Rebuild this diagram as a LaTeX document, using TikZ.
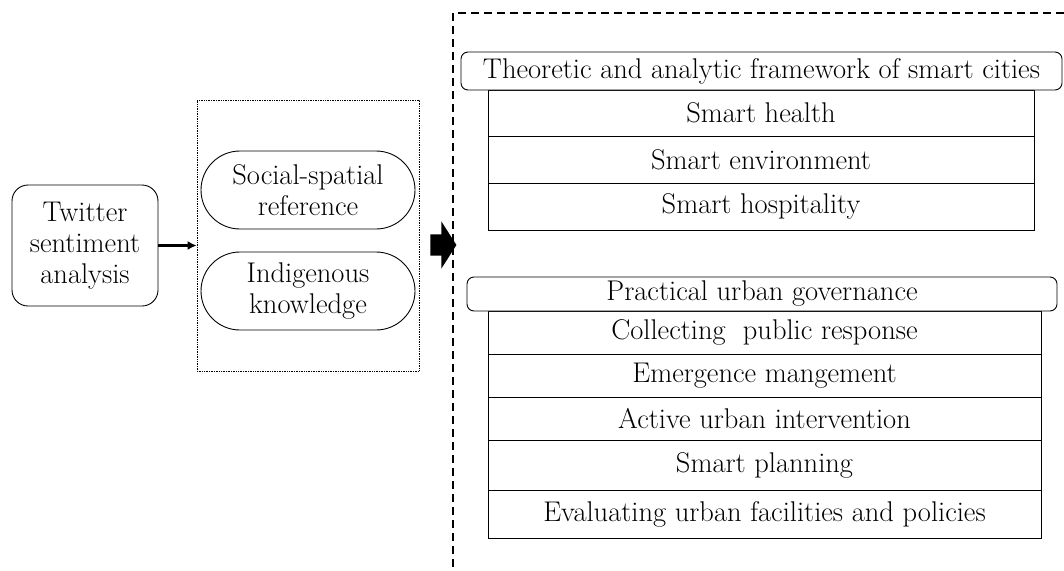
\documentclass[tikz,border=0pt]{standalone}
\usepackage{fontspec}
\usepackage{tikz}
\usetikzlibrary{arrows.meta,positioning,shapes.misc,shapes.arrows}

\begin{document}
\begin{tikzpicture}[x=1pt, y=-1pt, every node/.style={font=\fontsize{28.5}{31}\selectfont, align=center, inner sep=0pt},
  twbox/.style={draw, line width=0.9pt, rounded corners=16pt, minimum width=146pt, minimum height=121pt},
  pill/.style={draw, line width=0.9pt, rounded rectangle, minimum width=214pt, minimum height=78pt},
  headbox/.style={draw, line width=0.9pt, rounded corners=7pt, fill=white},
  rowbox/.style={draw, line width=0.8pt}]
\useasboundingbox (0,0) rectangle (1064,570);
\node[twbox] (tw) at (85,245.5) {Twitter\\sentiment\\analysis};
\node[draw, densely dotted, line width=0.7pt, minimum width=222pt, minimum height=271pt] (grp) at (308,235.5) {};
\node[pill] (ssr) at (308,190) {Social-spatial\\reference};
\node[pill] (ik) at (308,291) {Indigenous\\knowledge};
\draw[line width=2.2pt, -{Latex[length=9pt,width=9pt]}] (tw.east) -- (tw.east -| grp.west);
\node[single arrow, fill=black, inner xsep=0pt, inner ysep=10.5pt, single arrow head extend=13pt, single arrow tip angle=115, minimum height=26pt] (bigarr) at (440,245) {};
\draw[line width=1.3pt, dash pattern=on 8pt off 5pt] (453,580) -- (453,13) -- (1075,13);
\node[rowbox, minimum width=546pt, minimum height=46pt] (sh) at (761,113) {Smart health};
\node[rowbox, minimum width=546pt, minimum height=47pt] (se) at (761,159.5) {Smart environment};
\node[rowbox, minimum width=546pt, minimum height=47pt] (shp) at (761,206.5) {Smart hospitality};
\node[headbox, minimum width=601pt, minimum height=38pt] (fw) at (761.5,71) {Theoretic and analytic framework of smart cities};
\node[rowbox, minimum width=553pt, minimum height=43pt] (cpr) at (764.5,332.5) {Collecting\ \ public response};
\node[rowbox, minimum width=553pt, minimum height=43pt] (em) at (764.5,375.5) {Emergence mangement};
\node[rowbox, minimum width=553pt, minimum height=43pt] (aui) at (764.5,418.5) {Active urban intervention};
\node[rowbox, minimum width=553pt, minimum height=50pt] (sp) at (764.5,465) {Smart planning};
\node[rowbox, minimum width=553pt, minimum height=48pt] (euf) at (764.5,514) {Evaluating urban facilities and policies};
\node[headbox, minimum width=590pt, minimum height=34pt] (pug) at (762,294) {Practical urban governance};
\end{tikzpicture}
\end{document}
